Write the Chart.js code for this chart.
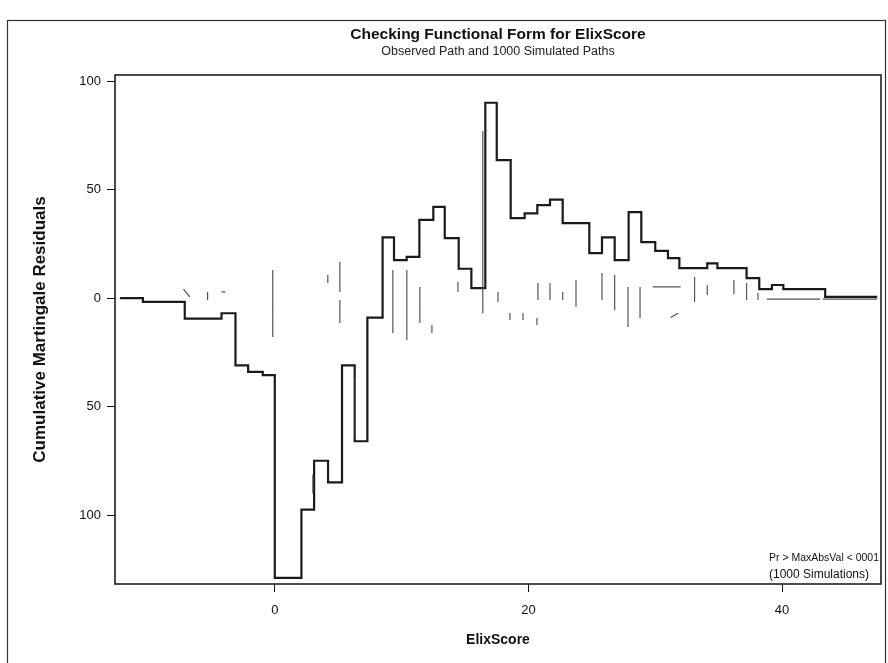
<!DOCTYPE html>
<html>
<head>
<meta charset="utf-8">
<title>Checking Functional Form for ElixScore</title>
<script src="https://cdn.jsdelivr.net/npm/chart.js@4.4.1/dist/chart.umd.min.js"></script>
<style>
    body { margin: 0; background: #fff; }
    canvas { display: block; }
</style>
</head>
<body>
<canvas id="chart" width="888" height="663"></canvas>
<script>
// observed cumulative martingale residual path (step starts and levels)
const pathX = [-12.2, -10.4, -7.1, -4.2, -3.1, -2.1, -0.95, 0.0, 2.1, 3.1, 4.2, 5.3, 6.3, 7.3,
    8.5, 9.4, 10.4, 11.4, 12.5, 13.4, 14.5, 15.5, 16.6, 17.5, 18.6, 19.7, 20.7, 21.7, 22.7,
    24.8, 25.8, 26.8, 27.9, 28.9, 30.0, 31.0, 31.9, 34.1, 34.9, 37.2, 38.2, 39.2, 40.1, 43.4, 47.5];
const pathY = [0, -1.8, -9.5, -7, -31, -34, -35.5, -129, -97.5, -75, -85, -31, -66, -9,
    28, 17.5, 19, 36, 42, 27.6, 13.5, 4.6, 90, 63.6, 36.8, 39, 42.8, 45.4, 34.5,
    20.7, 28, 17.5, 39.6, 25.8, 21.7, 18.4, 13.8, 16, 13.8, 9.2, 4.1, 6, 4.1, 0.5, 0.5];

// what is left of the simulated paths in the scan: short pieces from (x1,y1) to (x2,y2)
const fragX1 = [-7.2, -5.3, -4.2, -0.16, 3.0, 4.18, 5.13, 5.13, 6.35, 9.31, 10.41, 11.44, 12.39, 14.44,
    16.4, 17.6, 18.54, 19.57, 20.67, 20.75, 21.7, 22.7, 23.75, 25.8, 26.8, 27.85, 28.8,
    29.8, 31.8, 33.1, 34.1, 36.2, 37.2, 38.1, 38.8, 43.2];
const fragY1 = [4.1, 2.8, 2.8, 12.9, -81.5, 10.6, 16.6, -0.9, -37, 12.9, 12.9, 5.1, -12.4, 7.4,
    77, 2.8, -6.9, -6.9, -9.2, 6.9, 6.9, 2.8, 8.3, 11.5, 10.6, 5.1, 5.1,
    5.1, -7, 9.7, 6.0, 8.3, 6.9, 2.3, -0.5, -0.5];
const fragX2 = [-6.7, -5.3, -3.9, -0.16, 3.0, 4.18, 5.13, 5.13, 6.35, 9.31, 10.41, 11.44, 12.39, 14.44,
    16.4, 17.6, 18.54, 19.57, 20.67, 20.75, 21.7, 22.7, 23.75, 25.8, 26.8, 27.85, 28.8,
    32.0, 31.2, 33.1, 34.1, 36.2, 37.2, 38.1, 43.0, 47.5];
const fragY2 = [0.5, -0.9, 2.8, -18.0, -90, 6.9, 2.8, -11.5, -64, -16.1, -19.4, -11.5, -16.1, 2.8,
    -7, -1.8, -10.1, -10.1, -12.4, -0.9, -0.9, -0.9, -4.1, -0.9, -5.5, -13.4, -9.2,
    5.1, -9, -1.8, 1.4, 1.8, -0.9, -0.9, -0.5, -0.5];

const xTicks = [0, 20, 40];
const yTicks = [-100, -50, 0, 50, 100];

const pathData = pathX.map((x, i) => ({ x: x, y: pathY[i] }));

const fragData = [];
fragX1.forEach((x, i) => {
    fragData.push({ x: x, y: fragY1[i] });
    fragData.push({ x: fragX2[i], y: fragY2[i] });
    fragData.push({ x: fragX2[i], y: null }); // break between pieces
});

const fontName = '"Liberation Sans", Arial, sans-serif';

// white page, titles centred on the plot, outer frame, plot box and the p-value note
const framePlugin = {
    id: 'frame',
    beforeDraw(chart) {
        const ctx = chart.ctx;
        ctx.save();
        ctx.fillStyle = '#fff';
        ctx.fillRect(0, 0, chart.width, chart.height);
        ctx.restore();
    },
    afterDraw(chart) {
        const ctx = chart.ctx;
        const a = chart.chartArea;
        const mid = (a.left + a.right) / 2;
        ctx.save();
        ctx.strokeStyle = '#111';
        ctx.lineWidth = 1.5;
        ctx.strokeRect(a.left, a.top, a.right - a.left, a.bottom - a.top);
        ctx.lineWidth = 1.2;
        ctx.strokeStyle = '#333';
        ctx.strokeRect(7.5, 20.5, 878, 650);

        ctx.fillStyle = '#111';
        ctx.textAlign = 'center';
        ctx.textBaseline = 'middle';
        ctx.font = 'bold 15.5px ' + fontName;
        ctx.fillText('Checking Functional Form for ElixScore', mid, 35);
        ctx.fillStyle = '#222';
        ctx.font = '12.5px ' + fontName;
        ctx.fillText('Observed Path and 1000 Simulated Paths', mid, 52);

        ctx.fillStyle = '#111';
        ctx.textAlign = 'left';
        ctx.font = '11.5px ' + fontName;
        ctx.fillText('Pr > MaxAbsVal < 0001', a.right - 112, a.bottom - 26, 110);
        ctx.font = '12px ' + fontName;
        ctx.fillText('(1000 Simulations)', a.right - 112, a.bottom - 9, 100);
        ctx.restore();
    }
};

new Chart(document.getElementById('chart'), {
    type: 'line',
    data: {
        datasets: [
            {
                label: 'Simulated',
                data: fragData,
                borderColor: '#555',
                borderWidth: 1.2,
                pointRadius: 0,
                spanGaps: false,
            },
            {
                label: 'Observed',
                data: pathData,
                stepped: true,
                borderColor: '#1a1a1a',
                borderWidth: 2.2,
                pointRadius: 0,
            },
        ],
    },
    options: {
        responsive: false,
        animation: false,
        layout: { padding: { left: 0, right: 7, top: 75, bottom: 0 } },
        plugins: {
            legend: { display: false },
            tooltip: { enabled: false },
            title: { display: false },
        },
        scales: {
            x: {
                type: 'linear',
                min: -12.6,
                max: 47.8,
                afterBuildTicks: axis => { axis.ticks = xTicks.map(v => ({ value: v })); },
                afterFit: scale => { scale.height = 79; },
                grid: { drawOnChartArea: false, drawTicks: true, tickLength: 8, color: '#111' },
                border: { display: false },
                ticks: {
                    color: '#111',
                    padding: 11,
                    maxRotation: 0,
                    font: { family: fontName, size: 13 },
                },
                title: {
                    display: true,
                    text: 'ElixScore',
                    color: '#111',
                    font: { family: fontName, size: 14, weight: 'bold' },
                    padding: { top: 0, bottom: 14 },
                },
            },
            y: {
                type: 'linear',
                min: -131.8,
                max: 102.8,
                afterBuildTicks: axis => { axis.ticks = yTicks.map(v => ({ value: v })); },
                afterFit: scale => { scale.width = 115; },
                grid: { drawOnChartArea: false, drawTicks: true, tickLength: 8, color: '#111' },
                border: { display: false },
                ticks: {
                    color: '#111',
                    padding: 6,
                    font: { family: fontName, size: 13 },
                    callback: v => String(Math.abs(v)), // the scan shows no minus signs
                },
                title: {
                    display: true,
                    text: 'Cumulative Martingale Residuals',
                    color: '#111',
                    font: { family: fontName, size: 17, weight: 'bold' },
                    padding: { top: 29.8, bottom: 0 },
                },
            },
        },
    },
    plugins: [framePlugin],
});
</script>
</body>
</html>
